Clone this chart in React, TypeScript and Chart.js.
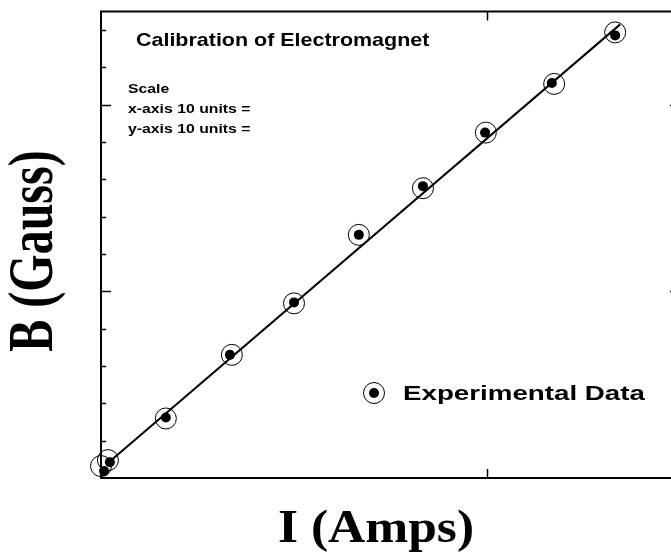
import React, { useEffect, useRef } from "react";
import { Chart, registerables } from "chart.js";

Chart.register(...registerables);

// Experimental data: open circle positions and filled dot positions (I, B units)
const circleX = [0.0, 0.18, 1.68, 3.39, 5.0, 6.68, 8.34, 9.97, 11.74, 13.32];
const circleY = [0.64, 0.96, 3.19, 6.6, 9.36, 13.03, 15.53, 18.51, 21.12, 23.88];
const dotX = [0.08, 0.23, 1.68, 3.34, 5.0, 6.68, 8.34, 9.95, 11.68, 13.32];
const dotY = [0.37, 0.85, 3.24, 6.6, 9.41, 13.03, 15.64, 18.51, 21.17, 23.72];

// Calibration line end points
const fitX = [0.18, 13.45];
const fitY = [0.8, 24.31];

// Axis ranges and tick values
const xRange = [0, 15];
const yRange = [0, 25];
const xMajorTicks = [10];
const yMinorTicks = [2, 4, 6, 8, 12, 14, 16, 18, 22, 24];
const yMajorTicks = [10, 20];

const titleText = "Calibration of Electromagnet";
const scaleLines = ["Scale", "x-axis 10 units =", "y-axis 10 units ="];
const legendLabel = "Experimental Data";
const xTitle = "I (Amps)";
const yTitle = "B (Gauss)";

function drawText(
  ctx: CanvasRenderingContext2D,
  text: string,
  x: number,
  y: number,
  font: string,
  sx: number,
  align: CanvasTextAlign,
  rotate = false
) {
  ctx.save();
  ctx.translate(x, y);
  ctx.scale(sx, 1);
  if (rotate) ctx.rotate(-Math.PI / 2);
  ctx.font = font;
  ctx.fillStyle = "#000";
  ctx.textAlign = align;
  ctx.textBaseline = "alphabetic";
  ctx.fillText(text, 0, 0);
  ctx.restore();
}

const framePlugin = {
  id: "frame",
  afterDatasetsDraw(chart: any) {
    const ctx: CanvasRenderingContext2D = chart.ctx;
    const { left, right, top, bottom } = chart.chartArea;
    const xs = chart.scales.x;
    const ys = chart.scales.y;
    ctx.save();
    ctx.strokeStyle = "#000";
    ctx.lineWidth = 2;
    ctx.beginPath();
    ctx.moveTo(left, top);
    ctx.lineTo(right, top);
    ctx.lineTo(right, bottom);
    ctx.lineTo(left, bottom);
    ctx.closePath();
    ctx.stroke();
    ctx.lineWidth = 1.5;
    ctx.beginPath();
    for (const v of yMinorTicks) {
      const p = Math.round(ys.getPixelForValue(v)) + 0.5;
      ctx.moveTo(left, p);
      ctx.lineTo(left + 5, p);
      ctx.moveTo(right, p);
      ctx.lineTo(right - 5, p);
    }
    for (const v of yMajorTicks) {
      const p = Math.round(ys.getPixelForValue(v)) + 0.5;
      ctx.moveTo(left, p);
      ctx.lineTo(left + 10, p);
      ctx.moveTo(right, p);
      ctx.lineTo(right - 10, p);
    }
    for (const v of xMajorTicks) {
      const p = Math.round(xs.getPixelForValue(v)) + 0.5;
      ctx.moveTo(p, bottom);
      ctx.lineTo(p, bottom - 9);
      ctx.moveTo(p, top);
      ctx.lineTo(p, top + 9);
    }
    ctx.stroke();
    ctx.restore();
  },
  afterDraw(chart: any) {
    const ctx: CanvasRenderingContext2D = chart.ctx;
    const sans = '"Liberation Sans", Arial, sans-serif';
    const serif = '"Liberation Serif", "Times New Roman", serif';
    drawText(ctx, titleText, 136, 46, `bold 18.5px ${sans}`, 1.16, "left");
    drawText(ctx, scaleLines[0], 128, 93, `bold 13.5px ${sans}`, 1.17, "left");
    drawText(ctx, scaleLines[1], 128, 113, `bold 13.5px ${sans}`, 1.17, "left");
    drawText(ctx, scaleLines[2], 128, 133, `bold 13.5px ${sans}`, 1.17, "left");

    // legend
    ctx.save();
    ctx.strokeStyle = "#000";
    ctx.lineWidth = 1;
    ctx.beginPath();
    ctx.arc(374, 393, 10.5, 0, Math.PI * 2);
    ctx.stroke();
    ctx.fillStyle = "#000";
    ctx.beginPath();
    ctx.arc(374, 393, 5, 0, Math.PI * 2);
    ctx.fill();
    ctx.restore();
    drawText(ctx, legendLabel, 403, 400, `bold 21px ${sans}`, 1.32, "left");

    // axis titles
    drawText(ctx, xTitle, 376, 542, `bold 46px ${serif}`, 1.12, "center");
    drawText(ctx, yTitle, 52, 251, `bold 48px ${serif}`, 1.32, "center", true);
  },
};

export default function App() {
  const ref = useRef<HTMLCanvasElement | null>(null);
  useEffect(() => {
    if (!ref.current) return;
    const chart = new Chart(ref.current, {
      type: "scatter",
      data: {
        datasets: [
          {
            label: "fit",
            data: fitX.map((x, i) => ({ x, y: fitY[i] })),
            showLine: true,
            borderColor: "#000",
            borderWidth: 2,
            pointRadius: 0,
            clip: false as any,
          },
          {
            label: "Experimental Data",
            data: circleX.map((x, i) => ({ x, y: circleY[i] })),
            pointRadius: 10.5,
            borderColor: "#000",
            borderWidth: 1,
            backgroundColor: "rgba(0,0,0,0)",
            clip: false as any,
          },
          {
            label: "dots",
            data: dotX.map((x, i) => ({ x, y: dotY[i] })),
            pointRadius: 5,
            borderWidth: 0,
            backgroundColor: "#000",
            borderColor: "#000",
            clip: false as any,
          },
        ],
      },
      options: {
        animation: false,
        responsive: false,
        devicePixelRatio: 1,
        layout: { padding: { left: 101, top: 9, right: 20, bottom: 77 } },
        plugins: { legend: { display: false }, tooltip: { enabled: false } },
        scales: {
          x: { type: "linear", min: xRange[0], max: xRange[1], display: false },
          y: { type: "linear", min: yRange[0], max: yRange[1], display: false },
        },
      },
      plugins: [framePlugin],
    });
    return () => chart.destroy();
  }, []);
  return (
    <div
      style={{
        position: "fixed",
        left: 0,
        top: 0,
        width: 671,
        height: 555,
        overflow: "hidden",
        background: "#fff",
      }}
    >
      <canvas ref={ref} width={700} height={555} style={{ display: "block", width: 700, height: 555 }} />
    </div>
  );
}
